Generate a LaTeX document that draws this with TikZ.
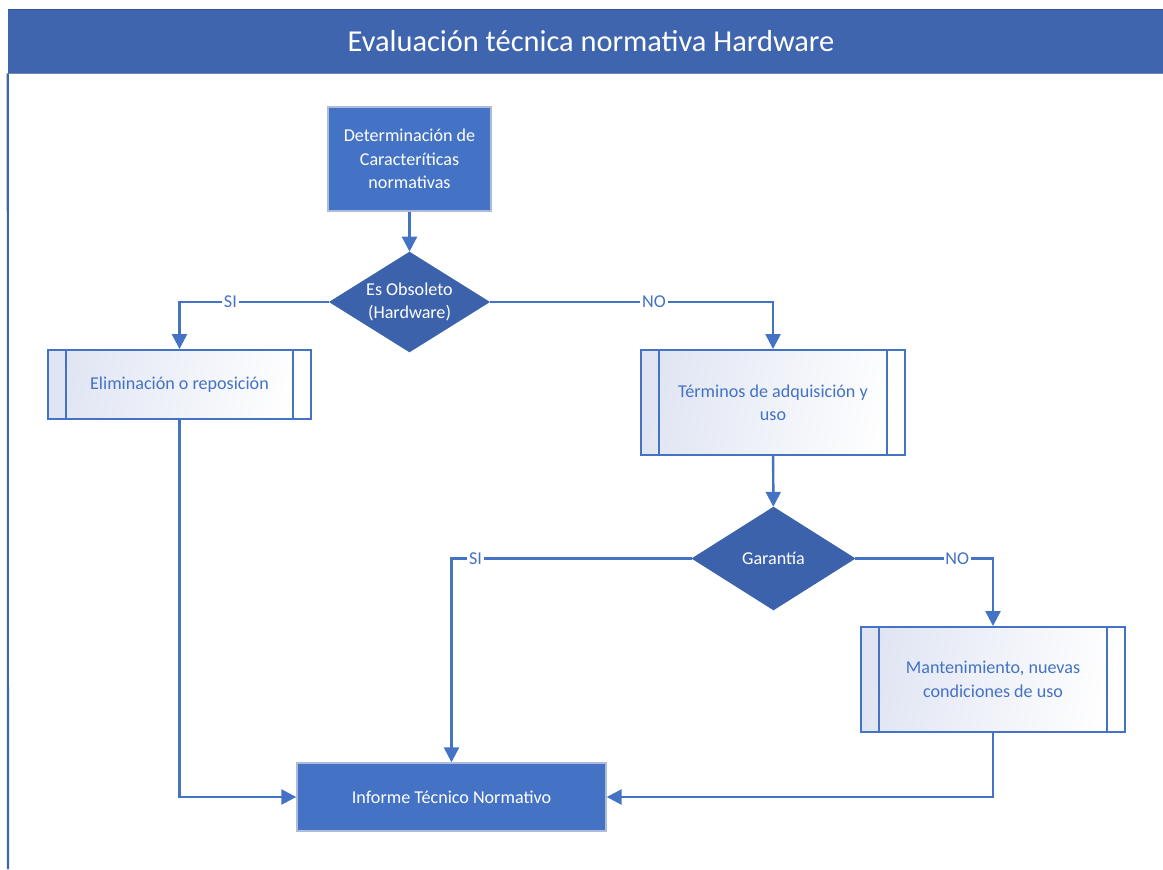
\documentclass[tikz,border=0pt]{standalone}
\usepackage{fontspec}
\setmainfont{Carlito}
\usetikzlibrary{shapes.geometric}
\usetikzlibrary{arrows.meta}
\usetikzlibrary{calc}

\definecolor{barblue}{HTML}{3F65AE}
\definecolor{baredge}{HTML}{2F5597}
\definecolor{boxblue}{HTML}{4472C4}
\definecolor{boxedge}{HTML}{AFBCD9}
\definecolor{decblue}{HTML}{3C62AB}
\definecolor{subfill}{HTML}{E0E5F3}

\newcommand{\flowfont}{\fontsize{10.3}{13.3}\selectfont}

\tikzset{
    titlebar/.style={rectangle, fill=barblue, text=white, inner sep=0pt,
        font=\fontsize{17.3}{20}\selectfont},
    bluebox/.style={rectangle, draw=boxedge, line width=0.8pt, fill=boxblue,
        text=white, align=center, inner sep=0pt, font=\flowfont},
    decision/.style={diamond, draw=decblue, fill=decblue, text=white, align=center,
        inner sep=0pt, aspect=1.6, font=\flowfont},
    subproc/.style={rectangle, draw=boxblue, line width=1.1pt, top color=subfill,
        bottom color=white, shading angle=80, text=boxblue, align=center,
        inner sep=0pt, font=\flowfont},
    link/.style={draw=boxblue, line width=1.4pt, -{Triangle[width=8.5pt,length=8.5pt]}},
    answer/.style={fill=white, inner sep=1pt, text=boxblue, font=\flowfont}
}

\begin{document}
\begin{tikzpicture}[x=0.02cm, y=-0.02cm]
    \useasboundingbox (0,0) rectangle (1163,869);

    % frame
    \node[titlebar, minimum width=23.1cm, minimum height=1.26cm] (ttl) at (585.5,41.5) {};
    \node[text=white, font=\fontsize{17.3}{20}\selectfont] (ttltext) at (591,41.5) {Evaluación técnica normativa Hardware};
    \draw[baredge, line width=0.8pt] (ttl.north west) -- (ttl.north east);
    \draw[baredge!70, line width=0.8pt] (ttl.south west) -- (ttl.south east);
    \draw[barblue, line width=1.2pt] (ttl.south west) -- (8,869);

    % nodes
    \node[bluebox, minimum width=3.26cm, minimum height=2.08cm] (det) at (409.5,159) {Determinación de\\Caracteríticas\\normativas};
    \node[decision, minimum width=3.2cm, minimum height=2cm] (obs) at (409.5,302) {Es Obsoleto\\(Hardware)};
    \node[subproc, minimum width=5.26cm, minimum height=1.38cm] (elim) at (179.5,384.5) {Eliminación o reposición};
    \node[subproc, minimum width=5.28cm, minimum height=2.1cm] (term) at (773,402.5) {Términos de adquisición y\\uso};
    \node[decision, minimum width=3.26cm, minimum height=2.06cm] (gar) at (773.5,558.5) {Garantía};
    \node[subproc, minimum width=5.28cm, minimum height=2.1cm] (mant) at (993,679.5) {Mantenimiento, nuevas\\condiciones de uso};
    \node[bluebox, minimum width=6.18cm, minimum height=1.36cm] (inf) at (451.5,797) {Informe Técnico Normativo};

    % inner bars of the subprocess boxes
    \foreach \n in {elim,term,mant}{
        \draw[boxblue, line width=1.1pt] ($(\n.north west)+(19,0)$) -- ($(\n.south west)+(19,0)$);
        \draw[boxblue, line width=1.1pt] ($(\n.north east)+(-19,0)$) -- ($(\n.south east)+(-19,0)$);
    }

    % connectors
    \draw[link] (det) -- (obs);
    \draw[link] (obs.west) -| node[answer, pos=0.33] {SI} (elim.north);
    \draw[link] (obs.east) -| node[answer, pos=0.29] {NO} (term.north);
    \draw[link] (term) -- (gar);
    \draw[link] (gar.west) -| node[answer, pos=0.45] {SI} (inf.north);
    \draw[link] (gar.east) -| node[answer, pos=0.37] {NO} (mant.north);
    \draw[link] (elim.south) |- (inf.west);
    \draw[link] (mant.south) |- (inf.east);
\end{tikzpicture}
\end{document}
